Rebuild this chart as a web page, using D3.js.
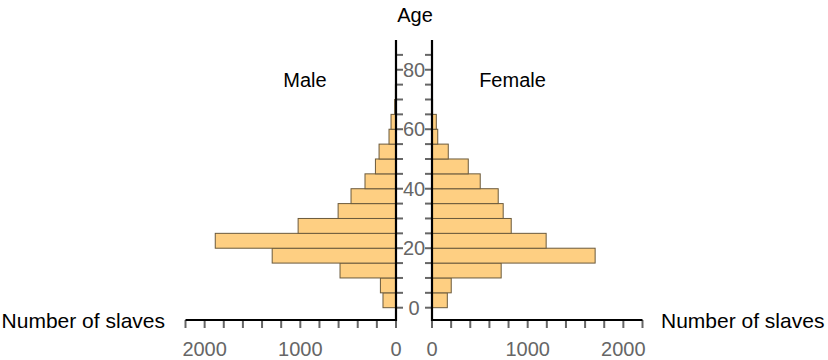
<!DOCTYPE html>
<html>
<head>
<meta charset="utf-8">
<script src="https://cdn.jsdelivr.net/npm/d3@7"></script>
<style>
  html, body { margin: 0; padding: 0; background: #fff; }
  svg { display: block; font-family: "Liberation Sans", Arial, sans-serif; }
</style>
</head>
<body>
<svg id="chart" width="828" height="360"></svg>
<script>
// Age groups (lower bound of each 5-year bin)
const ageGroups = [0, 5, 10, 15, 20, 25, 30, 35, 40, 45, 50, 55, 60, 65, 70, 75];
const maleCounts =   [136, 163, 585, 1294, 1889, 1023, 605, 470, 324, 215, 177, 73, 52, 14, 6, 3];
const femaleCounts = [160, 201, 723, 1705, 1193, 828, 744, 692, 504, 379, 170, 60, 45, 6, 2, 0];
const ageTicks = [0, 20, 40, 60, 80];
const ageMinorTicks = d3.range(0, 90, 5);
const countTicks = [0, 1000, 2000];
const countMinorTicks = d3.range(0, 2201, 200);

const svg = d3.select("#chart");

const leftZero = 396, rightZero = 432;
const xLeft = d3.scaleLinear().domain([0, 2200]).range([leftZero, 185.5]);
const xRight = d3.scaleLinear().domain([0, 2200]).range([rightZero, 642.5]);
const y = d3.scaleLinear().domain([0, 90]).range([307.7, 40]);
const axisY = 320;

const fill = "#fecf82", stroke = "#6b5a3c";

// Male bars
svg.append("g").selectAll("rect").data(ageGroups).join("rect")
  .attr("x", (d, i) => xLeft(maleCounts[i]))
  .attr("y", d => y(d + 5))
  .attr("width", (d, i) => xLeft(0) - xLeft(maleCounts[i]))
  .attr("height", d => y(d) - y(d + 5))
  .attr("fill", fill).attr("stroke", stroke).attr("stroke-width", 1)
  .attr("display", (d, i) => maleCounts[i] > 0 ? null : "none");

// Female bars
svg.append("g").selectAll("rect").data(ageGroups).join("rect")
  .attr("x", xRight(0))
  .attr("y", d => y(d + 5))
  .attr("width", (d, i) => xRight(femaleCounts[i]) - xRight(0))
  .attr("height", d => y(d) - y(d + 5))
  .attr("fill", fill).attr("stroke", stroke).attr("stroke-width", 1)
  .attr("display", (d, i) => femaleCounts[i] > 0 ? null : "none");

const tickColor = "#666666";

// Age ticks on both vertical axes (pointing inward)
svg.append("g").selectAll("line").data(ageMinorTicks).join("line")
  .attr("x1", leftZero).attr("x2", leftZero + 7)
  .attr("y1", d => y(d)).attr("y2", d => y(d))
  .attr("stroke", tickColor).attr("stroke-width", 2);
svg.append("g").selectAll("line").data(ageMinorTicks).join("line")
  .attr("x1", rightZero - 7).attr("x2", rightZero)
  .attr("y1", d => y(d)).attr("y2", d => y(d))
  .attr("stroke", tickColor).attr("stroke-width", 2);

// Age labels
svg.append("g").selectAll("text").data(ageTicks).join("text")
  .attr("x", (leftZero + rightZero) / 2)
  .attr("y", d => y(d))
  .attr("dy", "0.36em")
  .attr("text-anchor", "middle")
  .attr("font-size", 20)
  .attr("fill", tickColor)
  .text(d => d);

// Count ticks
svg.append("g").selectAll("line").data(countMinorTicks).join("line")
  .attr("x1", d => xLeft(d)).attr("x2", d => xLeft(d))
  .attr("y1", axisY).attr("y2", axisY + 8)
  .attr("stroke", tickColor).attr("stroke-width", 2);
svg.append("g").selectAll("line").data(countMinorTicks).join("line")
  .attr("x1", d => xRight(d)).attr("x2", d => xRight(d))
  .attr("y1", axisY).attr("y2", axisY + 8)
  .attr("stroke", tickColor).attr("stroke-width", 2);

// Count labels
svg.append("g").selectAll("text").data(countTicks).join("text")
  .attr("x", d => xLeft(d)).attr("y", 356)
  .attr("text-anchor", "middle").attr("font-size", 20).attr("fill", tickColor)
  .text(d => d);
svg.append("g").selectAll("text").data(countTicks).join("text")
  .attr("x", d => xRight(d)).attr("y", 356)
  .attr("text-anchor", "middle").attr("font-size", 20).attr("fill", tickColor)
  .text(d => d);

// Axis lines
const axisG = svg.append("g").attr("stroke", "#000").attr("stroke-width", 2.2);
axisG.append("line").attr("x1", leftZero).attr("x2", leftZero).attr("y1", y(90)).attr("y2", axisY + 1);
axisG.append("line").attr("x1", rightZero).attr("x2", rightZero).attr("y1", y(90)).attr("y2", axisY + 1);
axisG.append("line").attr("x1", xLeft(2200)).attr("x2", leftZero + 1).attr("y1", axisY).attr("y2", axisY);
axisG.append("line").attr("x1", rightZero - 1).attr("x2", xRight(2200)).attr("y1", axisY).attr("y2", axisY);

// Titles
svg.append("text").attr("x", 415).attr("y", 22).attr("text-anchor", "middle")
  .attr("font-size", 20).attr("fill", "#000").text("Age");
svg.append("text").attr("x", 305).attr("y", 87).attr("text-anchor", "middle")
  .attr("font-size", 20).attr("fill", "#000").text("Male");
svg.append("text").attr("x", 512.5).attr("y", 87).attr("text-anchor", "middle")
  .attr("font-size", 20).attr("fill", "#000").text("Female");
svg.append("text").attr("x", 165).attr("y", 328).attr("text-anchor", "end")
  .attr("font-size", 21).attr("fill", "#000").text("Number of slaves");
svg.append("text").attr("x", 661).attr("y", 328).attr("text-anchor", "start")
  .attr("font-size", 21).attr("fill", "#000").text("Number of slaves");
</script>
</body>
</html>
